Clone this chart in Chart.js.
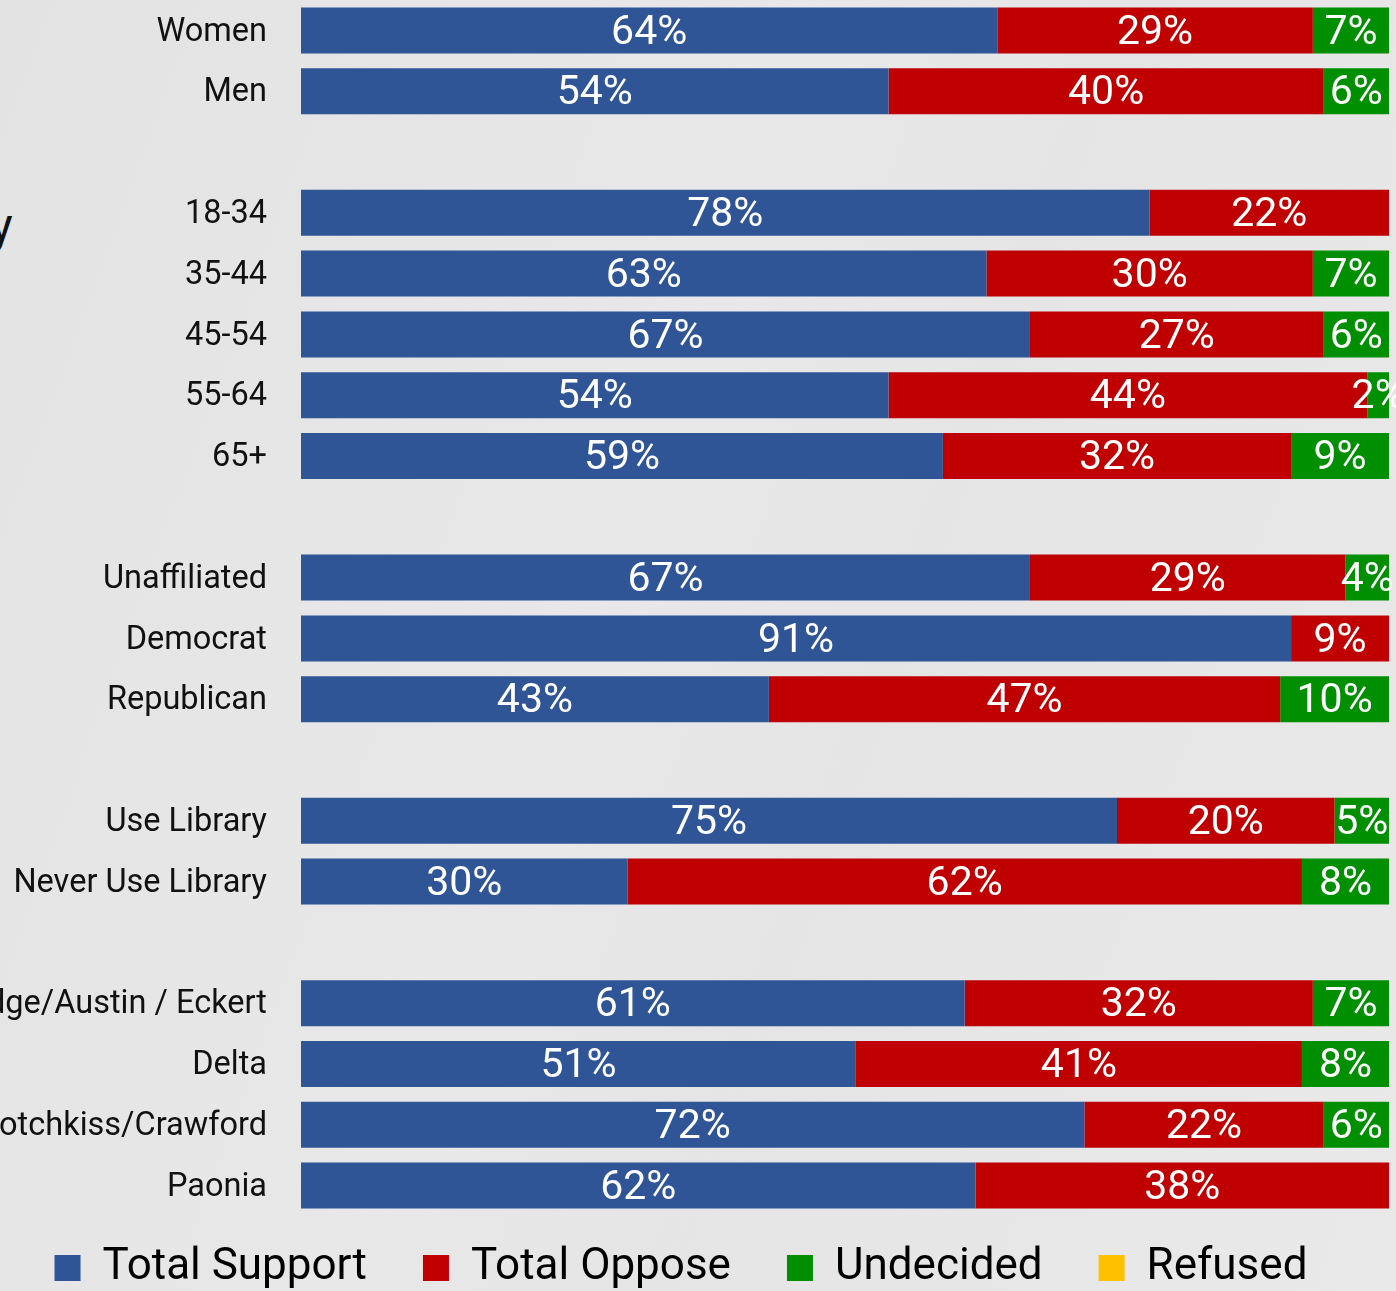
<!DOCTYPE html>
<html>
<head>
<meta charset="utf-8">
<script src="https://cdn.jsdelivr.net/npm/chart.js@4.4.1/dist/chart.umd.min.js"></script>
<style>
    html, body { margin: 0; padding: 0; overflow: hidden; }
    body {
        width: 1396px; height: 1291px; position: relative;
        background: linear-gradient(110deg, #e3e3e3 0%, #e8e8e8 45%, #e5e5e5 60%, #e9e9e9 100%);
        font-family: Roboto, sans-serif;
    }
    #wrap { position: absolute; left: -27px; top: 0; width: 1423px; height: 1326px; }
    #cut { position: absolute; left: -10px; top: 202px; font: 48px/48px Roboto, sans-serif; color: #111; }
</style>
</head>
<body>
<div id="cut">y</div>
<div id="wrap"><canvas id="barChart"></canvas></div>
<script>
// Rows of the chart, empty strings are the gaps between groups
const categories = ['Women', 'Men', '',
    '18-34', '35-44', '45-54', '55-64', '65+', '',
    'Unaffiliated', 'Democrat', 'Republican', '',
    'Use Library', 'Never Use Library', '',
    'Cedaredge/Austin / Eckert', 'Delta', 'Hotchkiss/Crawford', 'Paonia'];

const totalSupport = [64, 54, null, 78, 63, 67, 54, 59, null, 67, 91, 43, null, 75, 30, null, 61, 51, 72, 62];
const totalOppose  = [29, 40, null, 22, 30, 27, 44, 32, null, 29, 9, 47, null, 20, 62, null, 32, 41, 22, 38];
const undecided    = [7, 6, null, null, 7, 6, 2, 9, null, 4, null, 10, null, 5, 8, null, 7, 8, 6, null];
const refused      = [null, null, null, null, null, null, null, null, null, null, null, null, null, null, null, null, null, null, null, null];

// white % labels in the middle of each segment
const segmentLabels = {
    id: 'segmentLabels',
    afterDatasetsDraw(chart) {
        const ctx = chart.ctx;
        ctx.save();
        ctx.font = '41px Roboto';
        ctx.fillStyle = '#ffffff';
        ctx.textAlign = 'center';
        ctx.textBaseline = 'middle';
        chart.data.datasets.forEach((ds, i) => {
            chart.getDatasetMeta(i).data.forEach((bar, j) => {
                const v = ds.data[j];
                if (v === null || v === undefined) return;
                ctx.fillText(v + '%', (bar.x + bar.base) / 2, bar.y + 3);
            });
        });
        ctx.restore();
    }
};

// pull the legend up closer to the bars
const legendShift = {
    id: 'legendShift',
    afterLayout(chart) {
        if (chart.legend) {
            chart.legend.top -= 26;
            chart.legend.bottom -= 26;
        }
    }
};

const ctx = document.getElementById('barChart').getContext('2d');
const barChart = new Chart(ctx, {
    type: 'bar',
    data: {
        labels: categories,
        datasets: [
            { label: 'Total Support', data: totalSupport, backgroundColor: '#2F5597' },
            { label: 'Total Oppose', data: totalOppose, backgroundColor: '#C00000' },
            { label: 'Undecided', data: undecided, backgroundColor: '#008F00' },
            { label: 'Refused', data: refused, backgroundColor: '#FFC000' }
        ]
    },
    options: {
        indexAxis: 'y',
        responsive: true,
        maintainAspectRatio: false,
        animation: false,
        layout: { padding: { left: 0, right: 7, top: 0, bottom: 0 } },
        datasets: { bar: { categoryPercentage: 1, barPercentage: 0.757, borderWidth: 0 } },
        scales: {
            x: { stacked: true, min: 0, max: 100, display: false },
            y: {
                stacked: true,
                grid: { display: false, drawTicks: false },
                border: { display: false },
                ticks: { color: '#111111', font: { family: 'Roboto', size: 32.5 }, padding: 34, labelOffset: 2, autoSkip: false },
                afterFit(scale) {
                    scale.width = 328;
                    scale.paddingTop = 0;
                    scale.paddingBottom = 0;
                }
            }
        },
        plugins: {
            tooltip: { enabled: false },
            legend: {
                position: 'bottom',
                labels: {
                    boxWidth: 26,
                    boxHeight: 26,
                    padding: 56,
                    color: '#000000',
                    font: { family: 'Roboto', size: 44 }
                }
            }
        }
    },
    plugins: [segmentLabels, legendShift]
});
</script>
</body>
</html>
